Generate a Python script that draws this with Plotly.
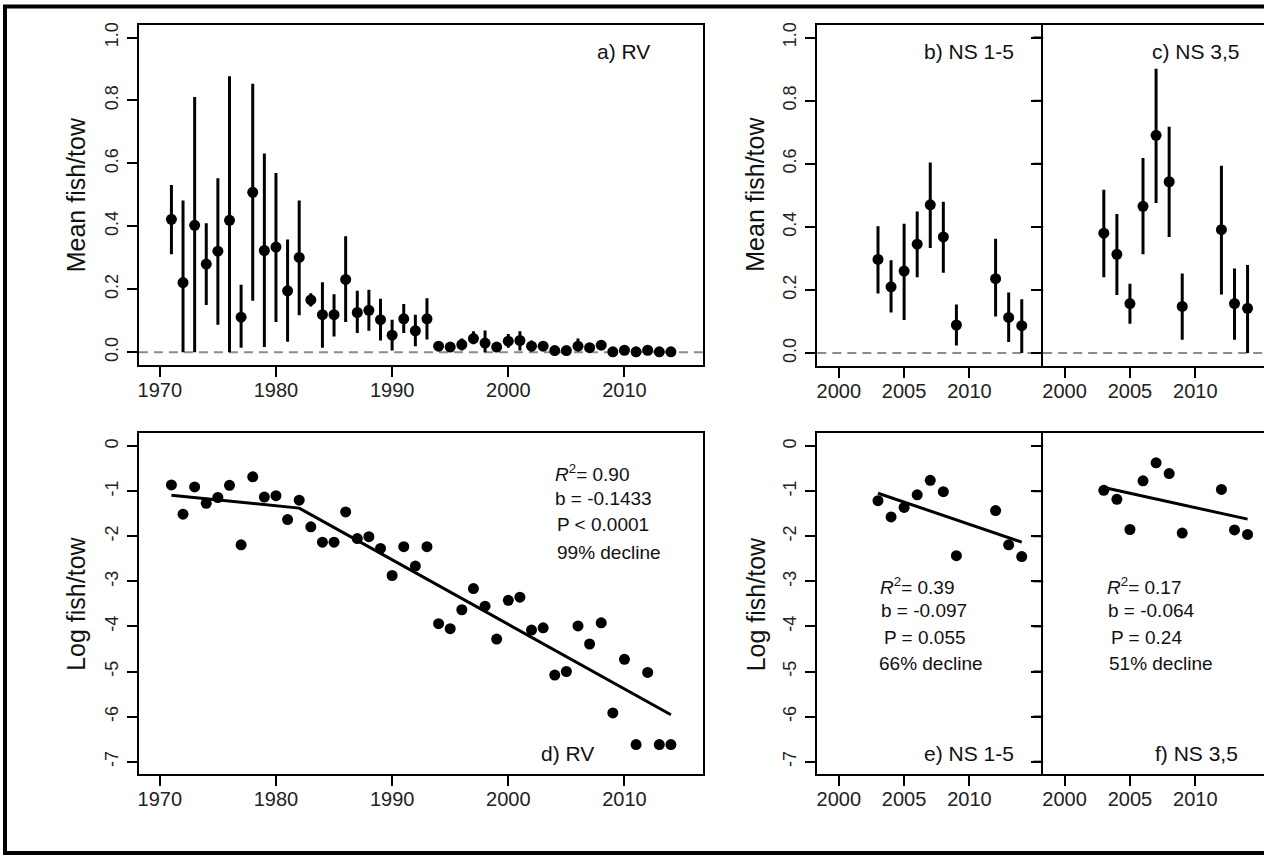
import plotly.graph_objects as go

W, H = 1264, 856

# panel a) RV survey means with confidence limits
years_rv = list(range(1971, 2015))
mean_rv = [0.422, 0.221, 0.403, 0.280, 0.321, 0.419, 0.111, 0.508, 0.323, 0.334,
           0.195, 0.301, 0.166, 0.119, 0.119, 0.231, 0.126, 0.133, 0.103, 0.054,
           0.106, 0.068, 0.106, 0.019, 0.016, 0.024, 0.043, 0.029, 0.016, 0.035,
           0.037, 0.019, 0.019, 0.005, 0.005, 0.019, 0.014, 0.022, 0.001, 0.006,
           0.001, 0.006, 0.001, 0.001]
upper_rv = [0.531, 0.482, 0.811, 0.410, 0.553, 0.877, 0.214, 0.853, 0.631, 0.569,
            0.358, 0.482, 0.187, 0.222, 0.184, 0.368, 0.195, 0.198, 0.170, 0.103,
            0.153, 0.119, 0.171, 0.025, 0.022, 0.043, 0.066, 0.069, 0.022, 0.058,
            0.066, 0.037, 0.030, 0.008, 0.010, 0.043, 0.020, 0.037, 0.004, 0.010,
            0.003, 0.010, 0.002, 0.002]
lower_rv = [0.311, 0.0, 0.0, 0.150, 0.087, 0.0, 0.014, 0.163, 0.016, 0.096,
            0.033, 0.117, 0.145, 0.014, 0.050, 0.096, 0.061, 0.068, 0.037, 0.005,
            0.061, 0.019, 0.040, 0.013, 0.010, 0.005, 0.025, 0.0, 0.010, 0.014,
            0.005, 0.003, 0.008, 0.002, 0.001, 0.005, 0.008, 0.008, 0.0, 0.002,
            0.0, 0.002, 0.0, 0.0]

# panels b) and c) NS surveys
years_ns = [2003, 2004, 2005, 2006, 2007, 2008, 2009, 2012, 2013, 2014]
mean_ns15 = [0.297, 0.210, 0.260, 0.345, 0.470, 0.368, 0.089, 0.236, 0.113, 0.087]
upper_ns15 = [0.402, 0.294, 0.410, 0.449, 0.604, 0.480, 0.154, 0.362, 0.192, 0.171]
lower_ns15 = [0.189, 0.129, 0.105, 0.240, 0.333, 0.255, 0.024, 0.116, 0.035, 0.0]
mean_ns35 = [0.380, 0.313, 0.157, 0.465, 0.690, 0.543, 0.148, 0.391, 0.157, 0.142]
upper_ns35 = [0.518, 0.441, 0.220, 0.618, 0.901, 0.717, 0.252, 0.594, 0.268, 0.279]
lower_ns35 = [0.240, 0.184, 0.093, 0.313, 0.476, 0.368, 0.042, 0.186, 0.042, 0.0]

# panels d) e) f) log means and fitted lines
log_rv = [-0.86, -1.51, -0.905, -1.27, -1.14, -0.87, -2.19, -0.68, -1.13, -1.10,
          -1.63, -1.20, -1.79, -2.13, -2.13, -1.46, -2.05, -2.01, -2.27, -2.87,
          -2.23, -2.66, -2.23, -3.94, -4.05, -3.63, -3.16, -3.55, -4.28, -3.42,
          -3.35, -4.08, -4.03, -5.08, -5.00, -3.99, -4.39, -3.92, -5.92, -4.73,
          -6.62, -5.02, -6.62, -6.62]
log_ns15 = [-1.21, -1.57, -1.36, -1.08, -0.76, -1.01, -2.43, -1.43, -2.19, -2.45]
log_ns35 = [-0.98, -1.18, -1.85, -0.77, -0.37, -0.61, -1.93, -0.96, -1.86, -1.96]
fit_rv_x = [1971, 1982, 2014]
fit_rv_y = [-1.09, -1.375, -5.96]
fit_ns_x = [2003, 2014]
fit_ns15_y = [-1.045, -2.13]
fit_ns35_y = [-0.92, -1.62]

mean_ticks = [0, 0.2, 0.4, 0.6, 0.8, 1.0]
log_ticks = [-7, -6, -5, -4, -3, -2, -1, 0]

stats_rv = ["<i>R</i><sup>2</sup>= 0.90", "b = -0.1433", "P < 0.0001", "99% decline"]
stats_ns15 = ["<i>R</i><sup>2</sup>= 0.39", "b = -0.097", "P = 0.055", "66% decline"]
stats_ns35 = ["<i>R</i><sup>2</sup>= 0.17", "b = -0.064", "P = 0.24", "51% decline"]

FONT = "Liberation Sans, Arial, sans-serif"
MEAN_RANGE = [-0.04, 1.04]
LOG_RANGE = [-7.28, 0.28]


def dom_x(left, right):
    return [left / W, min(right / W, 1.0)]


def dom_y(top, bottom):
    return [1 - bottom / H, 1 - top / H]


def px(x):
    return x / W


def py(y):
    return 1 - y / H


fig = go.Figure()


def add_means(n, x, m, up, lo):
    fig.add_trace(go.Scatter(
        x=x, y=m, mode="markers", xaxis="x%d" % n, yaxis="y%d" % n,
        marker=dict(color="black", size=11),
        error_y=dict(type="data", symmetric=False,
                     array=[u - v for u, v in zip(up, m)],
                     arrayminus=[v - l for v, l in zip(m, lo)],
                     width=0, thickness=3, color="black"),
        showlegend=False, hoverinfo="skip"))


def add_logs(n, x, y, fx, fy):
    fig.add_trace(go.Scatter(x=fx, y=fy, mode="lines", xaxis="x%d" % n, yaxis="y%d" % n,
                             line=dict(color="black", width=3), showlegend=False))
    fig.add_trace(go.Scatter(x=x, y=y, mode="markers", xaxis="x%d" % n, yaxis="y%d" % n,
                             marker=dict(color="black", size=11), showlegend=False))


add_means(1, years_rv, mean_rv, upper_rv, lower_rv)
add_means(2, years_ns, mean_ns15, upper_ns15, lower_ns15)
add_means(3, years_ns, mean_ns35, upper_ns35, lower_ns35)
add_logs(4, years_rv, log_rv, fit_rv_x, fit_rv_y)
add_logs(5, years_ns, log_ns15, fit_ns_x, fit_ns15_y)
add_logs(6, years_ns, log_ns35, fit_ns_x, fit_ns35_y)

axis_style = dict(showline=True, linewidth=2, linecolor="black", ticks="outside",
                  ticklen=10, tickwidth=2, tickcolor="black", showgrid=False,
                  zeroline=False)

ns_scale = 226 / 17.28  # px per year in NS panels
panels = [
    # n, x px, y px, xrange, yrange, xticks, ylabels, mirror y
    (1, (138, 703), (22, 363), [1968.2, 2016.8], MEAN_RANGE, [1970, 1980, 1990, 2000, 2010], True, True),
    (2, (817, 1043), (22, 364), [1998.36, 2015.64], MEAN_RANGE, [2000, 2005, 2010], True, False),
    (3, (1043, 1264), (22, 364), [1998.36, 1998.36 + 221 / ns_scale], MEAN_RANGE, [2000, 2005, 2010], False, False),
    (4, (138, 703), (432, 774), [1968.2, 2016.8], LOG_RANGE, [1970, 1980, 1990, 2000, 2010], True, True),
    (5, (817, 1043), (432, 774), [1998.36, 2015.64], LOG_RANGE, [2000, 2005, 2010], True, False),
    (6, (1043, 1264), (432, 774), [1998.36, 1998.36 + 221 / ns_scale], LOG_RANGE, [2000, 2005, 2010], False, False),
]

layout = {}
for n, xp, yp, xr, yr, xt, ylab, ymir in panels:
    sfx = "" if n == 1 else str(n)
    layout["xaxis" + sfx] = dict(axis_style, domain=dom_x(*xp), range=xr, tickvals=xt,
                                 anchor="y" + sfx, mirror=True, ticklabelstandoff=-4,
                                 tickfont=dict(family=FONT, size=20, color="#222"))
    if yr is MEAN_RANGE:
        yt = dict(tickvals=mean_ticks, ticktext=["%.1f" % v for v in mean_ticks])
    else:
        yt = dict(tickvals=log_ticks, ticktext=[str(v) for v in log_ticks])
    layout["yaxis" + sfx] = dict(axis_style, domain=dom_y(*yp), range=yr, anchor="x" + sfx,
                                 mirror=ymir, showticklabels=ylab, tickangle=-90,
                                 ticklabelstandoff=2,
                                 tickfont=dict(family=FONT, size=18, color="#222"), **yt)

fig.update_layout(**layout)

# y ticks of c) and f) stick out to the left, into b) and e): 10 px marks at the tick values
for ax, tv in (("2", mean_ticks), ("5", log_ticks)):
    for v in tv:
        fig.add_shape(type="line", xref="x%s domain" % ax, yref="y%s" % ax,
                      xsizemode="pixel", xanchor=1, x0=-10, x1=0, y0=v, y1=v,
                      line=dict(color="black", width=2))

# dashed zero lines in the mean panels
for n in (1, 2, 3):
    sfx = "" if n == 1 else str(n)
    fig.add_shape(type="line", xref="x%s domain" % sfx, yref="y%s" % sfx,
                  x0=0, x1=1, y0=0, y1=0,
                  line=dict(color="#8c8c8c", width=2, dash="9px,6px"), layer="below")

# outer frame of the figure
fig.add_shape(type="rect", xref="paper", yref="paper",
              x0=px(4), x1=px(1300), y0=py(853), y1=py(3.5),
              line=dict(color="black", width=4))

ann = []
panel_labels = [("a) RV", 623, 49), ("b) NS 1-5", 969, 49), ("c) NS 3,5", 1196, 49),
                ("d) RV", 567, 753), ("e) NS 1-5", 969, 753), ("f) NS 3,5", 1196, 753)]
for txt, x, y in panel_labels:
    ann.append(dict(text=txt, x=px(x), y=py(y), xref="paper", yref="paper",
                    showarrow=False, xanchor="center", yanchor="middle",
                    font=dict(family=FONT, size=21, color="#111")))

line_y_rv = [472, 497, 523, 551]
line_y_ns = [585, 610, 637, 663]
for lines, xs, ys in [(stats_rv, [552, 552, 554, 554], line_y_rv),
                      (stats_ns15, [878, 879, 882, 877], line_y_ns),
                      (stats_ns35, [1105, 1106, 1109, 1107], line_y_ns)]:
    for txt, x, y in zip(lines, xs, ys):
        ann.append(dict(text=txt, x=px(x), y=py(y), xref="paper", yref="paper",
                        showarrow=False, xanchor="left", yanchor="middle",
                        font=dict(family=FONT, size=19, color="#111")))

for txt, x, y in [("Mean fish/tow", 75, 192), ("Mean fish/tow", 755, 192),
                  ("Log fish/tow", 75, 603), ("Log fish/tow", 755, 603)]:
    ann.append(dict(text=txt, x=px(x), y=py(y), xref="paper", yref="paper",
                    showarrow=False, xanchor="center", yanchor="middle", textangle=-90,
                    font=dict(family=FONT, size=25, color="#111")))

fig.update_layout(annotations=ann, width=W, height=H,
                  margin=dict(l=0, r=0, t=0, b=0),
                  paper_bgcolor="white", plot_bgcolor="rgba(0,0,0,0)",
                  font=dict(family=FONT), showlegend=False)

# page body has a default margin that would shift the figure
fig.write_html("out.html", config={"displayModeBar": False},
               post_script="document.body.style.margin='0';document.body.style.overflow='hidden';")
